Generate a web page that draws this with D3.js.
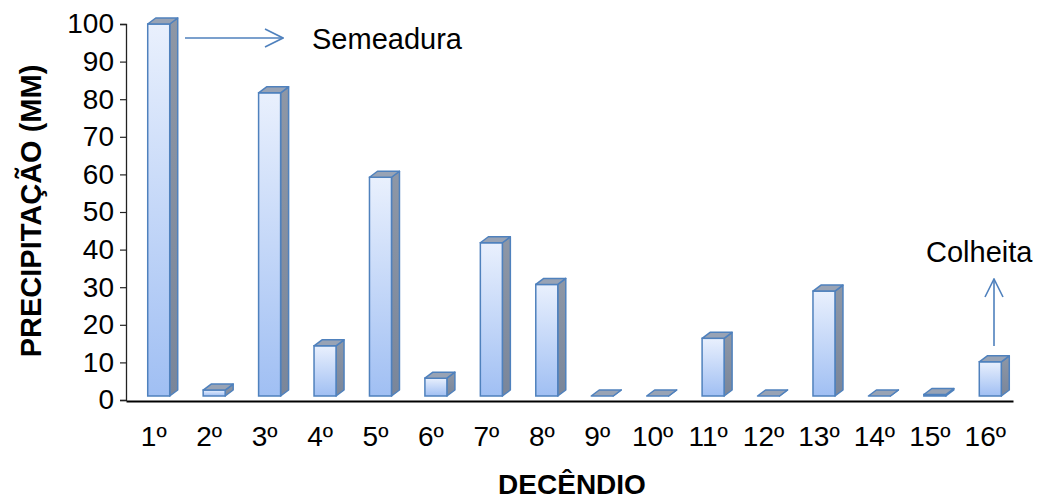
<!DOCTYPE html>
<html>
<head>
<meta charset="utf-8">
<script src="https://cdn.jsdelivr.net/npm/d3@7"></script>
<style>
  body { margin: 0; background: #fff; }
  text { font-family: "Liberation Sans", Arial, sans-serif; }
</style>
</head>
<body>
<svg id="chart"></svg>
<script>
// ───────────────── DATA ─────────────────
const decendios = ["1º","2º","3º","4º","5º","6º","7º","8º","9º","10º","11º","12º","13º","14º","15º","16º"];
const precip = [100, 1.6, 81.5, 13.5, 58.8, 4.8, 41.2, 30, 0, 0, 15.5, 0, 28.2, 0, 0.4, 9.2];
const yTicks = [0, 10, 20, 30, 40, 50, 60, 70, 80, 90, 100];

// ───────────────── SIZE ─────────────────
const W = 1037, H = 501;
const x0 = 126, x1 = 1013, yAxisTop = 24, yAxisBot = 400;
const DX = 8, DY = 6, BAR_W = 22;
const FONT = "'Liberation Sans', Arial, sans-serif";

const svg = d3.select("#chart")
  .attr("width", W)
  .attr("height", H);

const defs = svg.append("defs");
const grad = defs.append("linearGradient")
  .attr("id", "front").attr("x1", 0).attr("y1", 0).attr("x2", 0).attr("y2", 1);
grad.append("stop").attr("offset", "0%").attr("stop-color", "#e9f0fd");
grad.append("stop").attr("offset", "100%").attr("stop-color", "#a0bff3");

const sideGrad = defs.append("linearGradient")
  .attr("id", "side").attr("x1", 0).attr("y1", 0).attr("x2", 0).attr("y2", 1);
sideGrad.append("stop").attr("offset", "0%").attr("stop-color", "#8e97a6");
sideGrad.append("stop").attr("offset", "100%").attr("stop-color", "#7a869a");

defs.append("marker")
  .attr("id", "arrow")
  .attr("viewBox", "0 0 20 20")
  .attr("refX", 19).attr("refY", 10)
  .attr("markerWidth", 20).attr("markerHeight", 20)
  .attr("markerUnits", "userSpaceOnUse")
  .attr("orient", "auto")
  .append("path")
  .attr("d", "M1,1 L19,10 L1,19")
  .attr("fill", "none")
  .attr("stroke", "#4f81bd")
  .attr("stroke-width", 1.6);

// ───────────────── SCALE ─────────────────
const xScale = d3.scaleBand()
  .domain(decendios)
  .range([x0, x1]);

// axis scale and bar scale (3D floor sits a bit above the axis line)
const yAxisScale = d3.scaleLinear().domain([0, 100]).range([yAxisBot, yAxisTop]);
const yBar = d3.scaleLinear().domain([0, 100]).range([396, 24]);

// ───────────────── BARS ─────────────────
const bars = svg.append("g").selectAll("g")
  .data(decendios.map((d, i) => ({ k: d, v: precip[i] })))
  .join("g");

const bx = d => xScale(d.k) + xScale.bandwidth() / 2 - 6;

// side face
bars.append("path")
  .attr("d", d => {
    const l = bx(d) + BAR_W, t = yBar(d.v), b = yBar(0);
    return `M${l},${t} L${l + DX},${t - DY} L${l + DX},${b - DY} L${l},${b} Z`;
  })
  .attr("fill", "url(#side)")
  .attr("stroke", "#4f81bd")
  .attr("stroke-width", 1.5)
  .attr("stroke-linejoin", "round");

// front face
bars.append("rect")
  .attr("x", d => bx(d))
  .attr("y", d => yBar(d.v))
  .attr("width", BAR_W)
  .attr("height", d => yBar(0) - yBar(d.v))
  .attr("fill", "url(#front)")
  .attr("stroke", "#4f81bd")
  .attr("stroke-width", 1.5);

// top face
bars.append("path")
  .attr("d", d => {
    const l = bx(d), t = yBar(d.v);
    return `M${l},${t} L${l + DX},${t - DY} L${l + BAR_W + DX},${t - DY} L${l + BAR_W},${t} Z`;
  })
  .attr("fill", "#98a3b5")
  .attr("stroke", "#4f81bd")
  .attr("stroke-width", 1.5)
  .attr("stroke-linejoin", "round");

// ───────────────── AXES ─────────────────
const yAxis = svg.append("g")
  .attr("transform", `translate(${x0},0)`)
  .call(d3.axisLeft(yAxisScale).tickValues(yTicks).tickSize(6).tickPadding(6));
yAxis.select(".domain").attr("stroke", "#222").attr("stroke-width", 1.3);
yAxis.selectAll(".tick line").attr("stroke", "#222").attr("stroke-width", 1.2);
yAxis.selectAll("text")
  .attr("fill", "#000")
  .style("font-size", "28px")
  .style("font-family", FONT);

const xAxis = svg.append("g")
  .attr("transform", `translate(0,${yAxisBot + 1})`)
  .call(d3.axisBottom(xScale).tickSize(0).tickPadding(25));
xAxis.select(".domain").attr("stroke", "#000").attr("stroke-width", 2.2);
xAxis.selectAll("text")
  .attr("fill", "#000")
  .style("font-size", "28px")
  .style("font-family", FONT);

// ───────────────── AXIS LABEL ─────────────────
svg.append("text")
  .attr("transform", "rotate(-90)")
  .attr("x", -211)
  .attr("y", 41)
  .attr("text-anchor", "middle")
  .style("font-size", "29px")
  .style("font-weight", "700")
  .text("PRECIPITAÇÃO (MM)");

svg.append("text")
  .attr("x", 572)
  .attr("y", 494)
  .attr("text-anchor", "middle")
  .style("font-size", "28px")
  .style("font-weight", "700")
  .text("DECÊNDIO");

// ───────────────── ANNOTATIONS ─────────────────
svg.append("line")
  .attr("x1", 185).attr("y1", 38).attr("x2", 283).attr("y2", 38)
  .attr("stroke", "#4f81bd").attr("stroke-width", 1.6)
  .attr("marker-end", "url(#arrow)");

svg.append("text")
  .attr("x", 312).attr("y", 49)
  .style("font-size", "29px")
  .text("Semeadura");

svg.append("line")
  .attr("x1", 994).attr("y1", 346).attr("x2", 994).attr("y2", 279)
  .attr("stroke", "#4f81bd").attr("stroke-width", 1.6)
  .attr("marker-end", "url(#arrow)");

svg.append("text")
  .attr("x", 926).attr("y", 262)
  .style("font-size", "29px")
  .text("Colheita");
</script>
</body>
</html>
